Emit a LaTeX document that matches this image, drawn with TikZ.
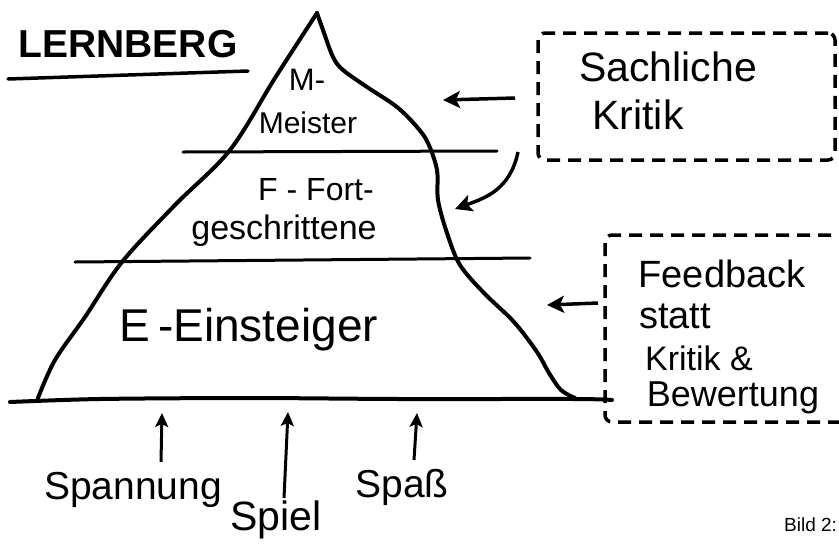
\documentclass[tikz,border=0pt]{standalone}
\usepackage{fontspec}
\setmainfont{Liberation Sans}
\usetikzlibrary{arrows.meta}
\tikzset{
  hw/.style={font=\fontsize{#1}{#1}\selectfont, inner sep=0pt},
  mount/.style={line width=4pt, line cap=round, line join=round},
  level/.style={line width=3pt, line cap=round},
  arr/.style={line width=3.5pt, -{Stealth[length=17pt,width=17pt,inset=4pt]}},
  uparr/.style={line width=3pt, -{Stealth[length=14pt,width=13pt,inset=3pt]}},
  dbox/.style={draw, line width=3.5pt, dash pattern=on 13pt off 8pt, rounded corners=7pt, inner sep=0pt},
}
\begin{document}
\begin{tikzpicture}[x=1pt,y=-1pt]
\useasboundingbox (0,0) rectangle (839,550);
% title
\node[font=\fontsize{39}{39}\selectfont\bfseries, inner sep=0pt] (title) at (128,44) {LERNBERG};
\draw[level, line width=3.5pt] (8,79) -- (248,71);
% mountain
\draw[mount] plot[smooth, tension=0.55] coordinates {(38,398) (55,360) (85,317) (122,262) (175,205) (230,150) (275,78) (317,13)};
\draw[mount] plot[smooth, tension=0.55] coordinates {(317,13) (323,30) (333,57) (343,70) (367,87) (397,107) (417,127) (428,143) (437,170) (438,200) (447,233) (460,265) (484,293) (514,322) (537,352) (549,373) (561,390) (575,398)};
% ground
\draw[mount] plot[smooth, tension=0.5] coordinates {(10,402) (100,399) (250,398) (400,399) (575,399) (612,400)};
% level lines
\draw[level] (183,152) -- (497,151);
\draw[level] (75,262) -- (530,258);
% level labels
\node[hw=31] (m1) at (307,80) {M-};
\node[hw=30] (m2) at (308,123) {Meister};
\node[hw=32] (f1) at (316,190) {F\ -\ Fort-};
\node[hw=34] (f2) at (284,231) {geschrittene};
\node[hw=46] (e1) at (249,330) {E\,-Einsteiger};
% boxes
\node[dbox, minimum width=297pt, minimum height=127pt] (sk) at (686.5,96.5) {};
\node[hw=41] (sk1) at (668,67) {Sachliche};
\node[hw=41] (sk2) at (638,115) {Kritik};
\node[dbox, minimum width=275pt, minimum height=187pt] (fb) at (742.5,328.5) {};
\node[hw=38] (fb1) at (722,274) {Feedback};
\node[hw=38] (fb2) at (675,316) {statt};
\node[hw=34] (fb3) at (699,358) {Kritik \&};
\node[hw=36] (fb4) at (733,398) {Bewertung};
% side arrows
\coordinate (a1s) at (515,98);
\coordinate (a1e) at (443,100);
\draw[arr] (a1s) -- (a1e);
\coordinate (a2s) at (518,152);
\coordinate (a2e) at (455,209);
\draw[arr] (a2s) .. controls (510,190) and (485,198) .. (a2e);
\coordinate (a3s) at (598,303);
\coordinate (a3e) at (547,305);
\draw[arr] (a3s) -- (a3e);
% bottom labels
\node[hw=39] (sp1) at (133,490) {Spannung};
\node[hw=41] (sp2) at (276,520) {Spiel};
\node[hw=39] (sp3) at (402,487) {Spaß};
\coordinate (u1) at (162,413);
\coordinate (u2) at (288,412);
\coordinate (u3) at (417,413);
\draw[uparr] (161,462) -- (u1);
\draw[uparr] (284,498) -- (u2);
\draw[uparr] (414,460) -- (u3);
% caption
\node[font=\fontsize{19}{19}\selectfont, anchor=west, inner sep=0pt] (cap) at (784,525) {Bild 2:};
\end{tikzpicture}
\end{document}
